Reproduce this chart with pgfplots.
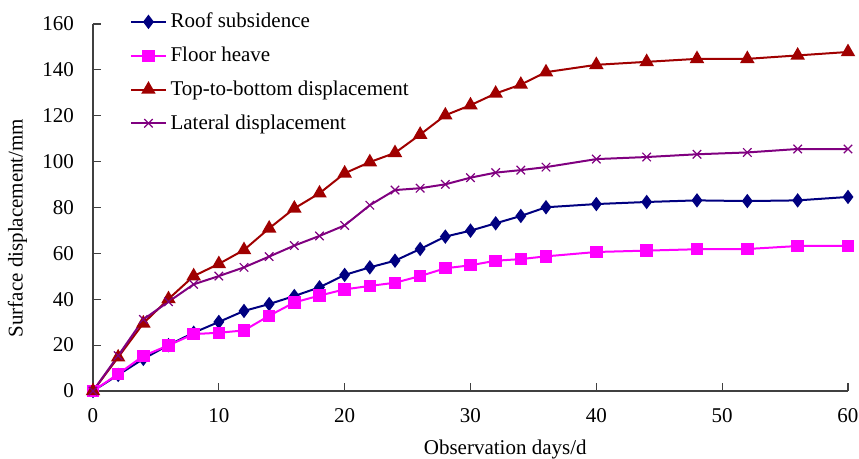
\documentclass[border=0pt]{standalone}
\usepackage{fontspec}
\setmainfont{Liberation Serif}
\usepackage{pgfplots}
\pgfplotsset{compat=1.18}

\definecolor{roof}{RGB}{0,0,128}
\definecolor{floor}{RGB}{255,0,255}
\definecolor{toptobottom}{RGB}{160,0,0}
\definecolor{lateral}{RGB}{128,0,128}

\begin{document}
\begin{tikzpicture}
\begin{axis}[
    width=377.5pt, height=183.5pt,
    scale only axis,
    xmin=0, xmax=60, ymin=0, ymax=160,
    xtick={0,10,...,60},
    ytick={0,20,...,160},
    axis x line=bottom, axis y line=left,
    axis line style={-, black!75, line width=0.6pt},
    tick style={black!75, line width=0.6pt},
    tick align=inside,
    major tick length=4pt,
    font=\fontsize{10.5pt}{12pt}\selectfont,
    ticklabel style={font=\fontsize{10.5pt}{12pt}\selectfont},
    /pgf/number format/assume math mode=true,
    yticklabel style={xshift=-6pt},
    xticklabel style={yshift=-5pt},
    xlabel={Observation days/d},
    ylabel={Surface displacement/mm},
    xlabel style={at={(axis description cs:0.546,-0.16)}, anchor=center},
    ylabel style={at={(axis description cs:-0.1,0.444)}, anchor=center, rotate=0},
    legend style={at={(axis description cs:0.049,1.042)}, anchor=north west,
        draw=none, fill=none, font=\fontsize{10.5pt}{12pt}\selectfont,
        row sep=4.1pt, inner sep=0pt},
    legend cell align=left,
    clip=false,
]
\addplot[roof, line width=1pt, mark=diamond*, mark size=2.8pt]
coordinates {(0,0) (2,7) (4,14) (6,20) (8,25.4) (10,30.1) (12,34.9) (14,37.9)
 (16,41.4) (18,45.2) (20,50.6) (22,53.9) (24,56.8) (26,61.9) (28,67.3) (30,69.9)
 (32,73.1) (34,76.3) (36,80.1) (40,81.5) (44,82.4) (48,83.1) (52,82.8) (56,83.1) (60,84.6)};
\addlegendentry{Roof subsidence}
\addplot[floor, line width=1pt, mark=square*, mark size=2.6pt]
coordinates {(0,0) (2,7.4) (4,15.3) (6,19.9) (8,24.8) (10,25.4) (12,26.4) (14,32.8)
 (16,38.6) (18,41.6) (20,44.3) (22,45.8) (24,47.2) (26,50.1) (28,53.5) (30,54.8)
 (32,56.8) (34,57.5) (36,58.7) (40,60.6) (44,61.2) (48,61.8) (52,61.9) (56,63.2) (60,63.3)};
\addlegendentry{Floor heave}
\addplot[toptobottom, line width=1pt, mark=triangle*, mark size=3.2pt]
coordinates {(0,0) (2,14.7) (4,29.5) (6,40.1) (8,50.1) (10,55.4) (12,61.5) (14,70.9)
 (16,79.6) (18,86.2) (20,94.9) (22,99.8) (24,103.8) (26,111.8) (28,120.2) (30,124.6)
 (32,129.7) (34,133.6) (36,139) (40,142.2) (44,143.5) (48,144.8) (52,144.8) (56,146.3) (60,147.8)};
\addlegendentry{Top-to-bottom displacement}
\addplot[lateral, line width=1pt, mark=x, mark size=3pt, mark options={line width=0.6pt}]
coordinates {(0,0) (2,15.4) (4,31.2) (6,38.9) (8,46.5) (10,50.1) (12,53.9) (14,58.6)
 (16,63.4) (18,67.6) (20,72.2) (22,81) (24,87.6) (26,88.4) (28,90.1) (30,93)
 (32,95.2) (34,96.3) (36,97.6) (40,101.1) (44,102) (48,103.2) (52,104) (56,105.5) (60,105.5)};
\addlegendentry{Lateral displacement}
\end{axis}
\pgfresetboundingbox
\path[use as bounding box] (-46.5pt,-34pt) rectangle (383pt,195.5pt);
\end{tikzpicture}
\end{document}
